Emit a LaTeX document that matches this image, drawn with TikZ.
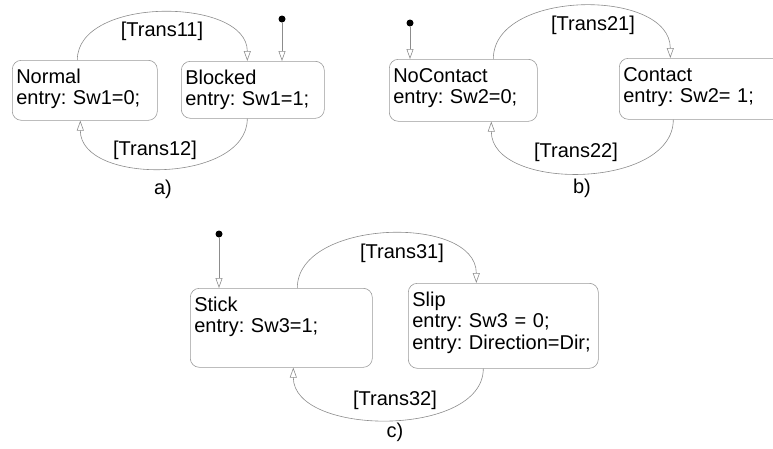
\documentclass[tikz,border=0pt]{standalone}
\usepackage{fontspec}
\setmainfont{Liberation Sans}
\usetikzlibrary{arrows.meta, positioning}
\definecolor{linegray}{HTML}{8C8C8C}
\definecolor{boxgray}{HTML}{9A9A9A}
\frenchspacing
\hyphenpenalty=10000

\begin{document}
\begin{tikzpicture}[
		x=1pt, y=-1pt,
		font=\fontsize{20}{21.5}\selectfont,
		state/.style={draw=boxgray, line width=0.6pt, rounded corners=9pt, anchor=north west,
			align=left, inner xsep=4pt, inner ysep=0pt, text height=23pt},
		trans/.style={draw=linegray, line width=0.6pt, -{Triangle[open, length=10pt, width=7pt]}},
		initdot/.style={circle, fill=black, inner sep=0pt, minimum size=7pt},
		tlabel/.style={inner sep=0pt}
		]
		\useasboundingbox (0,0) rectangle (773,448);
		\clip (0,0) rectangle (773,448);

		% a)
		\node[state, text width=137pt, text depth=37pt] (normal) at (12,60) {Normal\\entry: Sw1=0;};
		\node[state, text width=135pt, text depth=34pt] (blocked) at (181,61) {Blocked\\entry: Sw1=1;};
		\node[initdot] (inita) at (282,19) {};
		\node[tlabel] (t11) at (162,31) {[Trans11]};
		\node[tlabel] (t12) at (155,150) {[Trans12]};
		\node[tlabel] (capa) at (163,189) {a)};

		% b)
		\node[state, text width=140pt, text depth=39pt] (nocontact) at (389,59) {NoContact\\entry: Sw2=0;};
		\node[state, text width=162pt, text depth=38pt] (contact) at (619,58) {Contact\\entry: Sw2= 1;};
		\node[initdot] (initb) at (410,23) {};
		\node[tlabel] (t21) at (593,25) {[Trans21]};
		\node[tlabel] (t22) at (576,152) {[Trans22]};
		\node[tlabel] (capb) at (582,188) {b)};

		% c)
		\node[state, text width=174pt, text depth=56pt] (stick) at (190,288) {Stick\\entry: Sw3=1;};
		\node[state, text width=182pt, text depth=62pt] (slip) at (408,283) {Slip\\entry: Sw3 = 0;\\entry: Direction=Dir;};
		\node[initdot] (initc) at (219,234) {};
		\node[tlabel] (t31) at (402,253) {[Trans31]};
		\node[tlabel] (t32) at (395,400) {[Trans32]};
		\node[tlabel] (capc) at (395,432) {c)};

		\foreach \d/\s in {inita/blocked, initb/nocontact, initc/stick} {
			\draw[trans] (\d) -- (\d |- \s.north);
		}

		\draw[trans] ([xshift=-7.5pt]normal.north) .. controls +(0,-64) and +(0,-64) .. ([xshift=-5.5pt]blocked.north);
		\draw[trans] ([xshift=-5.5pt]blocked.south) .. controls +(0,65) and +(0,65) .. ([xshift=-4.5pt]normal.south);
		\draw[trans] ([xshift=30pt]nocontact.north) .. controls +(0,-70) and +(0,-70) .. ([xshift=-34pt]contact.north);
		\draw[trans] ([xshift=-31pt]contact.south) .. controls +(0,70) and +(0,70) .. ([xshift=28pt]nocontact.south);
		\draw[trans] ([xshift=16pt]stick.north) .. controls +(0,-69) and +(0,-69) .. ([xshift=-27pt]slip.north);
		\draw[trans] ([xshift=-20pt]slip.south) .. controls +(0,69) and +(0,69) .. ([xshift=12pt]stick.south);

	\end{tikzpicture}
\end{document}
